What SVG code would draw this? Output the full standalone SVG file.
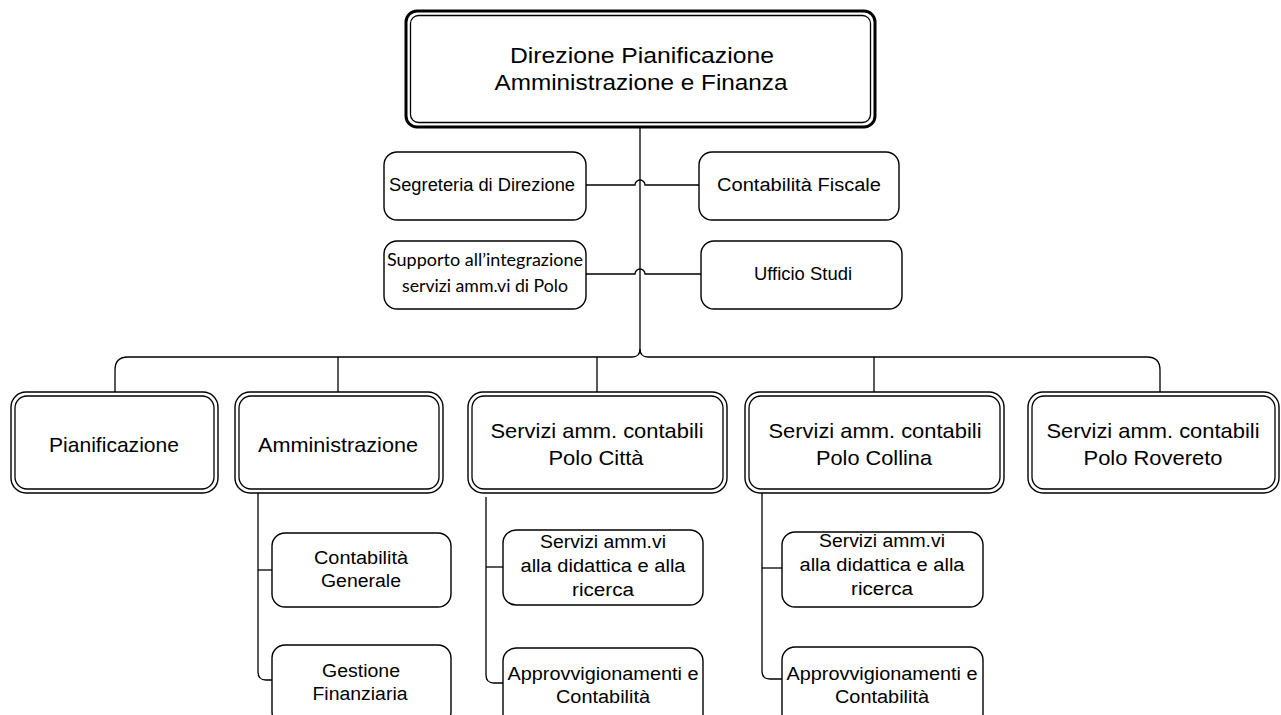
<svg xmlns="http://www.w3.org/2000/svg" width="1281" height="715" viewBox="0 0 1281 715">
  <style>
    .bg { fill: #ffffff; }
    .box { fill: #ffffff; stroke: #000000; stroke-width: 1.4; }
    .thin { fill: none; stroke: #000000; stroke-width: 1.3; }
    .heavy { fill: #ffffff; stroke: #000000; stroke-width: 3; }
    .wire { fill: none; stroke: #000000; stroke-width: 1.3; }
    text { font-family: "Liberation Sans", Arial, sans-serif; fill: #000000; text-anchor: middle; }
    .t1 { font-size: 22px; }
    .t2 { font-size: 21px; }
    .t3 { font-size: 18px; }
    .t4 { font-size: 18px; }
    .cal { font-family: Lato, "Open Sans", sans-serif; font-size: 18px; }
  </style>
  <rect class="bg" x="0" y="0" width="1281" height="715"/>

  <!-- connectors -->
  <g id="connectors">
    <!-- main trunk with brace into the bus -->
    <path class="wire" d="M640 127 V349 Q640 357 632 357 H128 Q115 357 115 370 V392"/>
    <path class="wire" d="M640 349 Q640 357 648 357 H1147 Q1160 357 1160 370 V392"/>
    <line class="wire" x1="338" y1="357" x2="338" y2="392"/>
    <line class="wire" x1="597" y1="357" x2="597" y2="392"/>
    <line class="wire" x1="874" y1="357" x2="874" y2="392"/>
    <!-- staff offices with line hops over the trunk -->
    <path class="wire" d="M586 185 H635 A5 5 0 0 1 645 185 H699"/>
    <path class="wire" d="M586 274 H635 A5 5 0 0 1 645 274 H701"/>
    <!-- Amministrazione sub-units -->
    <path class="wire" d="M258 493 V672 Q258 680 266 680 H272"/>
    <line class="wire" x1="258" y1="570" x2="272" y2="570"/>
    <!-- Polo Città sub-units -->
    <path class="wire" d="M486 497 V675 Q486 683 494 683 H503"/>
    <line class="wire" x1="486" y1="567" x2="503" y2="567"/>
    <!-- Polo Collina sub-units -->
    <path class="wire" d="M762 493 V671 Q762 679 770 679 H782"/>
    <line class="wire" x1="762" y1="568" x2="782" y2="568"/>
  </g>

  <!-- top management -->
  <g id="direzione">
    <rect class="heavy" x="406" y="11" width="469" height="116" rx="11"/>
    <rect class="thin" x="410.5" y="15.5" width="460" height="107" rx="8"/>
    <text class="t1" x="642" y="63" textLength="264" lengthAdjust="spacingAndGlyphs">Direzione Pianificazione</text>
    <text class="t1" x="641" y="90" textLength="293" lengthAdjust="spacingAndGlyphs">Amministrazione e Finanza</text>
  </g>

  <!-- staff offices -->
  <g id="segreteria">
    <rect class="box" x="384" y="152" width="202" height="68" rx="13"/>
    <text class="t3" x="482" y="191" textLength="186" lengthAdjust="spacingAndGlyphs">Segreteria di Direzione</text>
  </g>
  <g id="contabilita-fiscale">
    <rect class="box" x="699" y="152" width="200" height="68" rx="13"/>
    <text class="t3" x="799" y="191" textLength="164" lengthAdjust="spacingAndGlyphs">Contabilità Fiscale</text>
  </g>
  <g id="supporto">
    <rect class="box" x="384" y="241" width="202" height="68" rx="13"/>
    <text class="cal" x="485" y="266" textLength="196" lengthAdjust="spacingAndGlyphs">Supporto all’integrazione</text>
    <text class="cal" x="485" y="292" textLength="166" lengthAdjust="spacingAndGlyphs">servizi amm.vi di Polo</text>
  </g>
  <g id="ufficio-studi">
    <rect class="box" x="701" y="241" width="201" height="68" rx="13"/>
    <text class="t3" x="803" y="280" textLength="98" lengthAdjust="spacingAndGlyphs">Ufficio Studi</text>
  </g>

  <!-- divisions -->
  <g id="pianificazione">
    <rect class="box" x="11" y="392" width="207" height="101" rx="15"/>
    <rect class="thin" x="15" y="396" width="199" height="93" rx="12"/>
    <text class="t2" x="114" y="452" textLength="130" lengthAdjust="spacingAndGlyphs">Pianificazione</text>
  </g>
  <g id="amministrazione">
    <rect class="box" x="235" y="392" width="208" height="101" rx="15"/>
    <rect class="thin" x="239" y="396" width="200" height="93" rx="12"/>
    <text class="t2" x="338" y="452" textLength="160" lengthAdjust="spacingAndGlyphs">Amministrazione</text>
  </g>
  <g id="polo-citta">
    <rect class="box" x="468" y="392" width="259" height="101" rx="15"/>
    <rect class="thin" x="472" y="396" width="251" height="93" rx="12"/>
    <text class="t2" x="597" y="438" textLength="213" lengthAdjust="spacingAndGlyphs">Servizi amm. contabili</text>
    <text class="t2" x="596" y="465" textLength="95" lengthAdjust="spacingAndGlyphs">Polo Città</text>
  </g>
  <g id="polo-collina">
    <rect class="box" x="745" y="392" width="259" height="101" rx="15"/>
    <rect class="thin" x="749" y="396" width="251" height="93" rx="12"/>
    <text class="t2" x="875" y="438" textLength="213" lengthAdjust="spacingAndGlyphs">Servizi amm. contabili</text>
    <text class="t2" x="874" y="465" textLength="116" lengthAdjust="spacingAndGlyphs">Polo Collina</text>
  </g>
  <g id="polo-rovereto">
    <rect class="box" x="1028" y="392" width="251" height="101" rx="15"/>
    <rect class="thin" x="1032" y="396" width="243" height="93" rx="12"/>
    <text class="t2" x="1153" y="438" textLength="213" lengthAdjust="spacingAndGlyphs">Servizi amm. contabili</text>
    <text class="t2" x="1153" y="465" textLength="139" lengthAdjust="spacingAndGlyphs">Polo Rovereto</text>
  </g>

  <!-- units under Amministrazione -->
  <g id="contabilita-generale">
    <rect class="box" x="272" y="533" width="179" height="74" rx="13"/>
    <text class="t4" x="361" y="564" textLength="94" lengthAdjust="spacingAndGlyphs">Contabilità</text>
    <text class="t4" x="361" y="587" textLength="80" lengthAdjust="spacingAndGlyphs">Generale</text>
  </g>
  <g id="gestione-finanziaria">
    <rect class="box" x="272" y="645" width="179" height="80" rx="13"/>
    <text class="t4" x="361" y="677" textLength="78" lengthAdjust="spacingAndGlyphs">Gestione</text>
    <text class="t4" x="360" y="700" textLength="95" lengthAdjust="spacingAndGlyphs">Finanziaria</text>
  </g>

  <!-- units under Polo Città -->
  <g id="citta-didattica">
    <rect class="box" x="503" y="530" width="200" height="75" rx="13"/>
    <text class="t4" x="603" y="548" textLength="126" lengthAdjust="spacingAndGlyphs">Servizi amm.vi</text>
    <text class="t4" x="603" y="572" textLength="165" lengthAdjust="spacingAndGlyphs">alla didattica e alla</text>
    <text class="t4" x="603" y="596" textLength="62" lengthAdjust="spacingAndGlyphs">ricerca</text>
  </g>
  <g id="citta-approvvigionamenti">
    <rect class="box" x="503" y="648" width="200" height="80" rx="13"/>
    <text class="t4" x="603" y="680" textLength="191" lengthAdjust="spacingAndGlyphs">Approvvigionamenti e</text>
    <text class="t4" x="603" y="703" textLength="94" lengthAdjust="spacingAndGlyphs">Contabilità</text>
  </g>

  <!-- units under Polo Collina -->
  <g id="collina-didattica">
    <rect class="box" x="782" y="532" width="201" height="75" rx="13"/>
    <text class="t4" x="882" y="547" textLength="126" lengthAdjust="spacingAndGlyphs">Servizi amm.vi</text>
    <text class="t4" x="882" y="571" textLength="165" lengthAdjust="spacingAndGlyphs">alla didattica e alla</text>
    <text class="t4" x="882" y="595" textLength="62" lengthAdjust="spacingAndGlyphs">ricerca</text>
  </g>
  <g id="collina-approvvigionamenti">
    <rect class="box" x="782" y="647" width="201" height="80" rx="13"/>
    <text class="t4" x="882" y="680" textLength="191" lengthAdjust="spacingAndGlyphs">Approvvigionamenti e</text>
    <text class="t4" x="882" y="703" textLength="94" lengthAdjust="spacingAndGlyphs">Contabilità</text>
  </g>
</svg>
